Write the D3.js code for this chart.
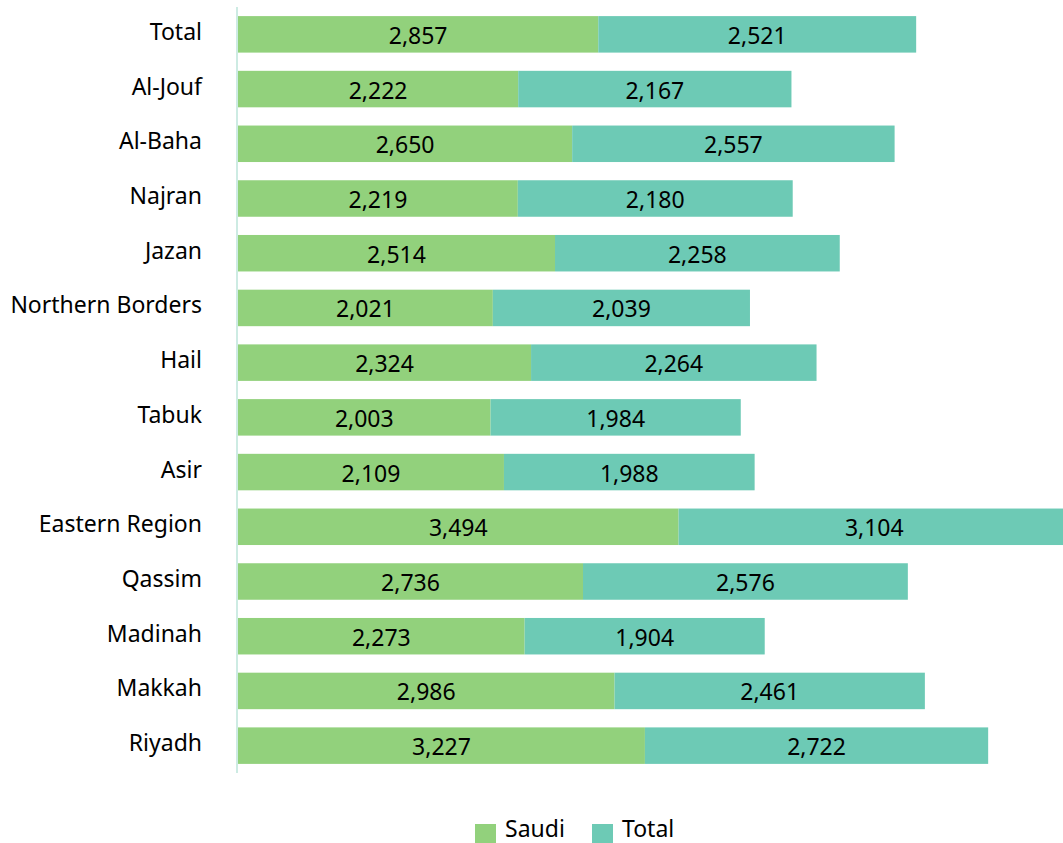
<!DOCTYPE html>
<html>
<head>
<meta charset="utf-8">
<script src="https://cdn.jsdelivr.net/npm/d3@7"></script>
<style>
  body { margin: 0; background: #fff; }
  svg { display: block; font-family: "Noto Sans", sans-serif; }
</style>
</head>
<body>
<svg id="chart" width="1063" height="843"></svg>
<script>
// data, top to bottom as drawn
const regions = ['Total', 'Al-Jouf', 'Al-Baha', 'Najran', 'Jazan', 'Northern Borders', 'Hail',
    'Tabuk', 'Asir', 'Eastern Region', 'Qassim', 'Madinah', 'Makkah', 'Riyadh'];
const saudi = [2857, 2222, 2650, 2219, 2514, 2021, 2324, 2003, 2109, 3494, 2736, 2273, 2986, 3227];
const total = [2521, 2167, 2557, 2180, 2258, 2039, 2264, 1984, 1988, 3104, 2576, 1904, 2461, 2722];
const seriesNames = ['Saudi', 'Total'];

const colors = d3.scaleOrdinal().domain(seriesNames).range(['#92d17c', '#6dcab5']);
const fmt = d3.format(',');

const svg = d3.select('#chart');
const left = 238;
const fontSize = '23px';

const x = d3.scaleLinear()
    .domain([0, 1000])
    .range([left, left + 126.1]);

const y = d3.scaleBand()
    .domain(regions)
    .range([7, 773])
    .paddingInner(0.333)
    .paddingOuter(0.1665);

const rows = regions.map((r, i) => ({region: r, saudi: saudi[i], total: total[i]}));

const row = svg.append('g')
    .selectAll('.row')
    .data(rows)
    .join('g')
    .attr('class', 'row');

// saudi segment
row.append('rect')
    .attr('x', x(0))
    .attr('y', d => y(d.region))
    .attr('width', d => x(d.saudi) - x(0))
    .attr('height', y.bandwidth())
    .attr('fill', colors('Saudi'));

// total segment
row.append('rect')
    .attr('x', d => x(d.saudi))
    .attr('y', d => y(d.region))
    .attr('width', d => x(d.saudi + d.total) - x(d.saudi))
    .attr('height', y.bandwidth())
    .attr('fill', colors('Total'));

row.append('text')
    .attr('x', d => (x(0) + x(d.saudi)) / 2)
    .attr('y', d => y(d.region) + y.bandwidth() / 2 + 9.5)
    .attr('text-anchor', 'middle')
    .style('font-size', fontSize)
    .text(d => fmt(d.saudi));

row.append('text')
    .attr('x', d => (x(d.saudi) + x(d.saudi + d.total)) / 2)
    .attr('y', d => y(d.region) + y.bandwidth() / 2 + 9.5)
    .attr('text-anchor', 'middle')
    .style('font-size', fontSize)
    .text(d => fmt(d.total));

// category labels
row.append('text')
    .attr('x', 202)
    .attr('y', d => y(d.region) + y.bandwidth() / 2 + 5.5)
    .attr('text-anchor', 'end')
    .style('font-size', fontSize)
    .text(d => d.region);

// axis line
svg.append('line')
    .attr('x1', 237).attr('x2', 237)
    .attr('y1', 7).attr('y2', 773)
    .attr('stroke', '#cdebe3')
    .attr('stroke-width', 2);

// legend
const legend = svg.append('g').attr('transform', 'translate(475,824)');
const legX = [0, 117];
const item = legend.selectAll('g')
    .data(seriesNames)
    .join('g')
    .attr('transform', (d, i) => `translate(${legX[i]},0)`);
item.append('rect')
    .attr('width', 21).attr('height', 21)
    .attr('fill', d => colors(d));
item.append('text')
    .attr('x', 30).attr('y', 12.5)
    .style('font-size', fontSize)
    .text(d => d);
</script>
</body>
</html>
